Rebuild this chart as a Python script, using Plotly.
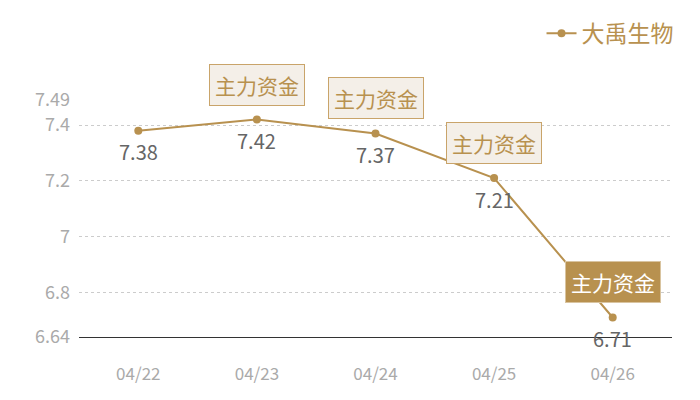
import plotly.graph_objects as go

dates = ['04/22', '04/23', '04/24', '04/25', '04/26']
prices = [7.38, 7.42, 7.37, 7.21, 6.71]
series_name = '大禹生物'
flag_text = '主力资金'
flag_dates = ['04/23', '04/24', '04/25', '04/26']
y_ticks = [6.64, 6.8, 7, 7.2, 7.4, 7.49]

gold = '#b8914f'
font_family = 'Noto Sans CJK SC'

fig = go.Figure()
fig.add_trace(go.Scatter(
    x=dates, y=prices, name=series_name,
    mode='lines+markers',
    line=dict(color=gold, width=2),
    marker=dict(color=gold, size=8),
    showlegend=True,
))

# 数值标签
for d, p in zip(dates, prices):
    fig.add_annotation(x=d, y=p, text=str(p), showarrow=False, yshift=-21,
                       font=dict(size=20, color='#666666', family=font_family))

# 主力资金标记
for d in flag_dates:
    p = prices[dates.index(d)]
    last = d == flag_dates[-1]
    fig.add_annotation(x=d, y=p, text=flag_text, showarrow=False, yshift=35,
                       font=dict(size=21, color='#ffffff' if last else gold, family=font_family),
                       bgcolor=gold if last else '#f4efe8',
                       bordercolor='#d9c4a0' if last else '#c9a46a',
                       borderwidth=1, borderpad=5)

# 页面有8px边距, 所以尺寸减掉一点
fig.update_layout(
    width=692, height=392,
    margin=dict(l=71, r=28, t=92, b=63, autoexpand=False),
    plot_bgcolor='white', paper_bgcolor='white',
    font=dict(family=font_family),
    legend=dict(x=1.011, xanchor='right', y=1.372, yanchor='top',
                font=dict(size=23, color=gold, family=font_family),
                itemwidth=30, bgcolor='rgba(0,0,0,0)'),
    xaxis=dict(type='category', range=[-0.5, 4.5], showgrid=False,
               showline=True, linecolor='#333333', linewidth=1,
               tickfont=dict(size=17, color='#aaaaaa', family=font_family),
               ticklabelstandoff=22, zeroline=False),
    yaxis=dict(range=[6.64, 7.49], tickvals=y_ticks,
               ticktext=[str(v) for v in y_ticks],
               showgrid=True, gridcolor='#cccccc', griddash='dot', gridwidth=1,
               tickfont=dict(size=18, color='#aaaaaa', family=font_family),
               ticklabelstandoff=8, zeroline=False, showline=False),
)

fig.write_html("out.html")
